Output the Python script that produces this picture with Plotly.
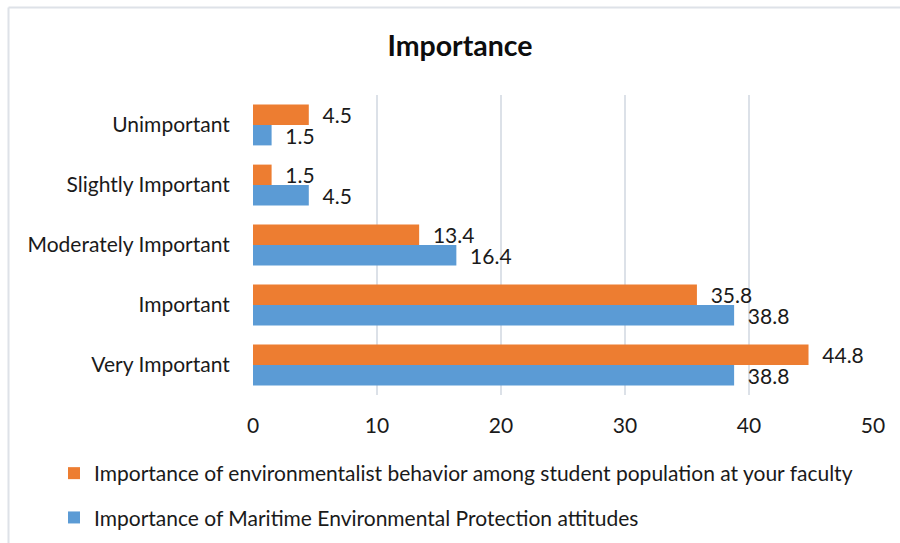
import plotly.graph_objects as go

# Response categories, bottom to top
categories = ["Very Important", "Important", "Moderately Important",
              "Slightly Important", "Unimportant"]

# Percentages per category
maritime_protection = [38.8, 38.8, 16.4, 4.5, 1.5]
environmentalist_behavior = [44.8, 35.8, 13.4, 1.5, 4.5]

name_maritime = "Importance of Maritime Environmental Protection attitudes"
name_behavior = ("Importance of environmentalist behavior among student "
                 "population at your faculty")

x_ticks = [0, 10, 20, 30, 40, 50]

FONT = "Lato, Calibri, Carlito, sans-serif"
TEXT_COLOR = "#1A1A1A"
GRID = "#DCE1E8"
PAD = "\u00a0\u00a0"
FS = 21

fig = go.Figure()
fig.add_trace(go.Bar(
    y=categories, x=maritime_protection, orientation="h",
    name=name_maritime, legendgroup="m", legendrank=2,
    marker=dict(color="#5B9BD5", line=dict(width=0)),
    text=[PAD + f"{v:g}" for v in maritime_protection],
    textposition="outside", cliponaxis=False, constraintext="none",
    textfont=dict(family=FONT, size=FS, color=TEXT_COLOR),
    hoverinfo="x+y",
))
fig.add_trace(go.Bar(
    y=categories, x=environmentalist_behavior, orientation="h",
    name=name_behavior, legendgroup="b", legendrank=1,
    marker=dict(color="#ED7D31", line=dict(width=0)),
    text=[PAD + f"{v:g}" for v in environmentalist_behavior],
    textposition="outside", cliponaxis=False, constraintext="none",
    textfont=dict(family=FONT, size=FS, color=TEXT_COLOR),
    hoverinfo="x+y",
))

# Chart frame (left and top edges)
frame_left = (8.5 - 253) / 620
frame_top = (395 - 7.5) / 300
fig.add_shape(type="line", xref="paper", yref="paper",
              x0=frame_left, x1=frame_left, y0=-0.6, y1=frame_top,
              line=dict(color="#DEE2E8", width=2))
fig.add_shape(type="line", xref="paper", yref="paper",
              x0=frame_left, x1=1.1, y0=frame_top, y1=frame_top,
              line=dict(color="#DEE2E8", width=2))

fig.update_layout(
    width=900, height=543,
    margin=dict(l=253, r=27, t=95, b=148, pad=0, autoexpand=False),
    paper_bgcolor="white", plot_bgcolor="white",
    barmode="group", bargap=0.32, bargroupgap=0,
    font=dict(family=FONT, size=FS, color=TEXT_COLOR),
    title=dict(text="<b>Importance</b>", x=460 / 900, xanchor="center",
               y=1 - 46 / 543, yanchor="middle",
               font=dict(family=FONT, size=28.5, color="#0D0D0D")),
    xaxis=dict(range=[0, 50], tickvals=x_ticks, showgrid=True,
               gridcolor=GRID, gridwidth=2, zeroline=False, showline=False,
               ticks="outside", ticklen=12, tickcolor="rgba(0,0,0,0)",
               tickfont=dict(family=FONT, size=FS, color=TEXT_COLOR),
               fixedrange=True),
    yaxis=dict(categoryorder="array", categoryarray=categories,
               showgrid=False, zeroline=False, showline=False,
               ticks="outside", ticklen=18, tickcolor="rgba(0,0,0,0)",
               tickfont=dict(family=FONT, size=FS, color=TEXT_COLOR),
               fixedrange=True),
    legend=dict(orientation="v", traceorder="grouped",
                tracegroupgap=14, x=(54 - 253) / 620, xanchor="left",
                y=(395 - 453) / 300, yanchor="top",
                font=dict(family=FONT, size=FS, color=TEXT_COLOR),
                bgcolor="rgba(0,0,0,0)"),
    showlegend=True,
)

fig.write_html("out.html")
